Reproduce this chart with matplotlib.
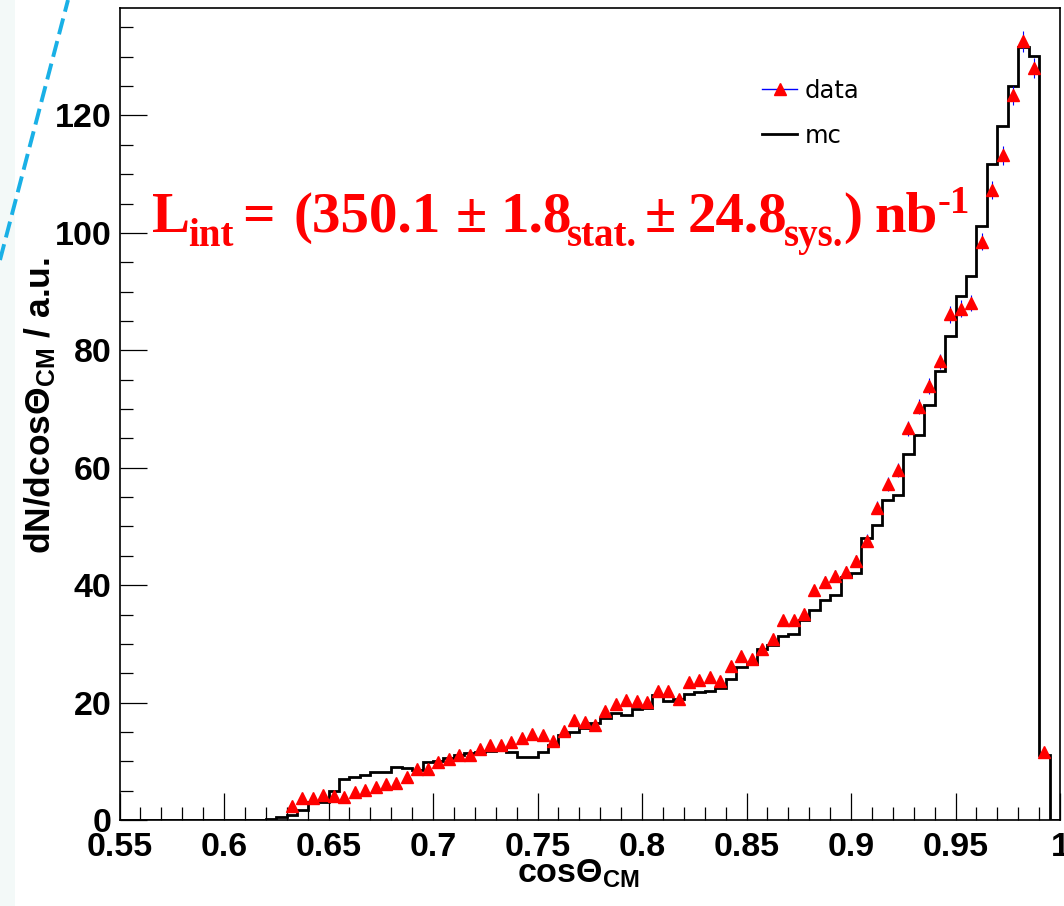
import matplotlib
matplotlib.use('Agg')
from matplotlib import pyplot
from matplotlib.lines import Line2D
from matplotlib.patches import Rectangle
from matplotlib.ticker import MultipleLocator
import numpy as np

# histogram binning (0.005 wide bins from 0.55 to 1.0)
bin_lo = 0.55
bin_hi = 1.0
bin_width = 0.005

# mc histogram contents, one per bin (90 bins)
mc = [0, 0, 0, 0, 0, 0, 0, 0, 0, 0, 0, 0, 0, 0,
      0.25, 0.55, 0.8, 1.75, 3.1, 3.1, 4.9, 6.9, 7.3, 7.7,
      8.1, 8.1, 9.0, 8.8, 8.5, 9.8, 10.0, 10.5, 11.1, 11.4,
      11.6, 11.8, 11.9, 11.5, 10.8, 10.8, 11.6, 12.8, 14.5, 15.0,
      15.6, 16.5, 17.3, 18.2, 17.9, 18.9, 19.1, 21.3, 20.3, 20.6,
      21.4, 21.8, 22.0, 22.4, 24.0, 26.0, 26.5, 29.2, 29.8, 31.4,
      31.7, 34.1, 35.7, 37.5, 38.3, 41.4, 42.1, 48.0, 50.2, 54.5,
      55.4, 62.4, 65.5, 70.6, 76.4, 82.5, 89.3, 92.6, 101.1, 111.7,
      118.2, 125.1, 131.7, 130.1, 11.0, 0]

# data points, bin centres 0.6325 ... 0.9925
data_x = [0.6325, 0.6375, 0.6425, 0.6475, 0.6525, 0.6575, 0.6625, 0.6675,
          0.6725, 0.6775, 0.6825, 0.6875, 0.6925, 0.6975, 0.7025, 0.7075,
          0.7125, 0.7175, 0.7225, 0.7275, 0.7325, 0.7375, 0.7425, 0.7475,
          0.7525, 0.7575, 0.7625, 0.7675, 0.7725, 0.7775, 0.7825, 0.7875,
          0.7925, 0.7975, 0.8025, 0.8075, 0.8125, 0.8175, 0.8225, 0.8275,
          0.8325, 0.8375, 0.8425, 0.8475, 0.8525, 0.8575, 0.8625, 0.8675,
          0.8725, 0.8775, 0.8825, 0.8875, 0.8925, 0.8975, 0.9025, 0.9075,
          0.9125, 0.9175, 0.9225, 0.9275, 0.9325, 0.9375, 0.9425, 0.9475,
          0.9525, 0.9575, 0.9625, 0.9675, 0.9725, 0.9775, 0.9825, 0.9875,
          0.9925]
data_y = [2.3, 3.7, 3.8, 4.2, 4.1, 3.9, 4.8, 5.1,
          5.7, 6.2, 6.3, 7.4, 8.7, 8.7, 9.9, 10.4,
          11.0, 11.0, 12.1, 12.8, 12.8, 13.3, 14.0, 14.7,
          14.5, 13.5, 15.1, 17.0, 16.7, 16.1, 18.5, 19.8,
          20.5, 20.3, 20.1, 22.0, 22.0, 20.6, 23.5, 23.8,
          24.4, 23.7, 26.2, 27.9, 27.4, 29.2, 30.9, 34.0,
          34.0, 35.1, 39.1, 40.6, 41.6, 42.2, 44.1, 47.6,
          53.2, 57.2, 59.6, 66.7, 70.4, 73.9, 78.1, 86.1,
          87.1, 88.1, 98.5, 107.3, 113.2, 123.4, 132.6, 128.0,
          11.6]
data_err = [0.25, 0.3, 0.3, 0.3, 0.3, 0.3, 0.35, 0.35,
            0.35, 0.4, 0.4, 0.4, 0.45, 0.45, 0.5, 0.5,
            0.5, 0.5, 0.5, 0.55, 0.55, 0.55, 0.55, 0.6,
            0.6, 0.55, 0.6, 0.6, 0.6, 0.6, 0.65, 0.65,
            0.7, 0.7, 0.7, 0.7, 0.7, 0.7, 0.75, 0.75,
            0.75, 0.75, 0.8, 0.8, 0.8, 0.8, 0.85, 0.9,
            0.9, 0.9, 0.95, 0.95, 0.95, 1.0, 1.0, 1.05,
            1.1, 1.15, 1.15, 1.25, 1.25, 1.3, 1.35, 1.4,
            1.4, 1.4, 1.5, 1.55, 1.6, 1.65, 1.75, 1.7,
            0.5]

xticks = [0.55, 0.6, 0.65, 0.7, 0.75, 0.8, 0.85, 0.9, 0.95, 1.0]
xtick_labels = ['0.55', '0.6', '0.65', '0.7', '0.75', '0.8', '0.85', '0.9', '0.95', '1']
yticks = [0, 20, 40, 60, 80, 100, 120]

# luminosity annotation, split in pieces: (text, size, shift down px, gap before px)
lumi_pieces = [('L', 41, 0, 0), ('int', 28, 14, -2), ('=', 41, 0, 9),
               ('(350.1', 41, 0, 19), ('\u00b1', 41, 0, 14), ('1.8', 41, 0, 14),
               ('stat.', 28, 14, -5), ('\u00b1', 41, 0, 8), ('24.8', 41, 0, 11),
               ('sys.', 28, 14, -3), (')', 41, 0, 0), ('nb', 41, 0, 12),
               ('-1', 28, -19, 0)]

pyplot.rcParams['mathtext.fontset'] = 'custom'
pyplot.rcParams['mathtext.rm'] = 'Liberation Sans:bold'
pyplot.rcParams['mathtext.it'] = 'Liberation Sans:bold'
pyplot.rcParams['mathtext.bf'] = 'Liberation Sans:bold'
pyplot.rcParams['font.family'] = ['Liberation Sans', 'DejaVu Sans']

W, H = 1064, 906
fig = pyplot.figure(figsize=(W / 100, H / 100), dpi=100, facecolor='white')
ax = fig.add_axes([119.5 / W, (H - 820) / H, (1060 - 119.5) / W, (820 - 8) / H])

# slide leftovers on the left edge
fig.patches.append(Rectangle((0, 0), 15 / W, 1, transform=fig.transFigure,
                             facecolor='#f3f9f8', edgecolor='none', zorder=0))
fig.add_artist(Line2D([0, 68 / W], [1 - 260 / H, 1], transform=fig.transFigure,
                      color='#19b0e6', lw=2.8, linestyle=(0, (4.2, 1.8))))

edges = np.linspace(bin_lo, bin_hi, len(mc) + 1)
ax.stairs(mc, edges, color='black', lw=2.0, baseline=0, zorder=2)
ax.errorbar(data_x, data_y, yerr=data_err, fmt='^', ms=8, color='red', mec='red',
            ecolor='blue', elinewidth=0.8, capsize=0, zorder=3)

ax.set_xlim(bin_lo, bin_hi)
ax.set_ylim(0, 138.3)
ax.set_xticks(xticks)
ax.set_xticklabels(xtick_labels)
ax.set_yticks(yticks)
ax.xaxis.set_minor_locator(MultipleLocator(0.01))
ax.yaxis.set_minor_locator(MultipleLocator(5))
ax.tick_params(which='both', direction='in', top=False, right=False, width=0.9)
ax.tick_params(which='major', length=19.5, labelsize=24.5)
ax.tick_params(axis='x', which='major', pad=9)
ax.tick_params(axis='y', which='major', pad=6)
ax.tick_params(which='minor', length=9.5)
for lab in ax.get_xticklabels() + ax.get_yticklabels():
    lab.set_fontweight('bold')
for sp in ax.spines.values():
    sp.set_linewidth(1.2)

# axis titles
fig.text(578 / W, 1 - 883 / H, r'cos$\Theta_{CM}$', ha='center', va='baseline',
         fontsize=24.5, fontweight='bold')
fig.text(40 / W, 1 - 406 / H, r'dN/dcos$\Theta_{CM}$ / a.u.', rotation=90,
         ha='center', va='center', fontsize=25.5, fontweight='bold')

# legend
h_data = Line2D([], [], color='blue', lw=1, marker='^', ms=9, mfc='red', mec='red')
h_mc = Line2D([], [], color='black', lw=2)
ax.legend([h_data, h_mc], ['data', 'mc'], loc='upper left',
          bbox_to_anchor=(762 / W, 1 - 79 / H), bbox_transform=fig.transFigure,
          frameon=False, borderpad=0, borderaxespad=0,
          prop={'family': 'DejaVu Sans', 'size': 17.5},
          handlelength=1.45, handletextpad=0.3, labelspacing=0.85)

# luminosity annotation, placed piece by piece
renderer = fig.canvas.get_renderer()
x_cur = 152
for txt, size, dy, gap in lumi_pieces:
    x_cur += gap
    t = fig.text(x_cur / W, 1 - (232 + dy) / H, txt, ha='left', va='baseline',
                 color='red', fontsize=size, fontweight='bold', family='Liberation Serif')
    x_cur = t.get_window_extent(renderer).x1

pyplot.savefig('out.png', dpi=100)
pyplot.close()
